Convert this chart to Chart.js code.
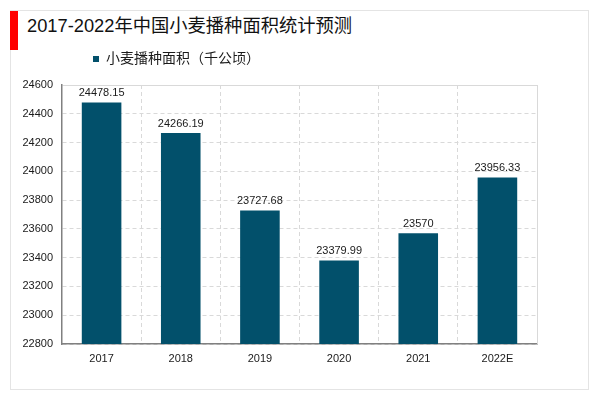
<!DOCTYPE html>
<html>
<head>
<meta charset="utf-8">
<script src="https://cdn.jsdelivr.net/npm/chart.js@4/dist/chart.umd.min.js"></script>
<style>
  html, body { margin: 0; padding: 0; background: #ffffff; }
  #wrap { position: relative; width: 600px; height: 393px; overflow: hidden; background: #fff; }
  #frame { position: absolute; left: 10px; top: 10px; width: 579px; height: 380px; border: 1px solid #e4e4e4; box-sizing: border-box; }
  #redbar { position: absolute; left: 10px; top: 11px; width: 8px; height: 39px; background: #ff0000; }
  #title { position: absolute; left: 27px; top: 14px; font-family: "Liberation Sans", "Noto Sans CJK SC", sans-serif; font-size: 18.3px; line-height: 24px; color: #111; white-space: nowrap; }
  #c { position: absolute; left: 0; top: 0; }
</style>
</head>
<body>
<div id="wrap">
  <div id="frame"></div>
  <div id="redbar"></div>
  <div id="title">2017-2022年中国小麦播种面积统计预测</div>
  <canvas id="c" width="600" height="393"></canvas>
</div>
<script>
const categories = ["2017", "2018", "2019", "2020", "2021", "2022E"];
const seriesName = "小麦播种面积（千公顷）";
const areaValues = [24478.15, 24266.19, 23727.68, 23379.99, 23570, 23956.33];
const yMin = 22800;
const yMax = 24600;
const yStep = 200;

const FONT = '"Liberation Sans", "Noto Sans CJK SC", sans-serif';

const valueLabels = {
  id: 'valueLabels',
  afterDatasetsDraw(chart) {
    const ctx = chart.ctx;
    const meta = chart.getDatasetMeta(0);
    const data = chart.data.datasets[0].data;
    ctx.save();
    ctx.font = '11px ' + FONT;
    ctx.fillStyle = '#1a1a1a';
    ctx.textAlign = 'center';
    ctx.textBaseline = 'bottom';
    meta.data.forEach((bar, i) => {
      ctx.fillText(String(data[i]), bar.x, bar.y - 4);
    });
    ctx.restore();
  }
};

const plotRightEdge = {
  id: 'plotRightEdge',
  beforeDatasetsDraw(chart) {
    const a = chart.chartArea;
    const ctx = chart.ctx;
    ctx.save();
    ctx.strokeStyle = '#d9d9d9';
    ctx.lineWidth = 1;
    ctx.setLineDash([]);
    const x = Math.round(a.right) + 0.5;
    ctx.beginPath();
    ctx.moveTo(x, a.top);
    ctx.lineTo(x, a.bottom);
    ctx.stroke();
    ctx.restore();
  }
};

const legendShift = {
  id: 'legendShift',
  afterLayout(chart) {
    if (chart.legend) {
      chart.legend.left += 21;
      chart.legend.right += 21;
      chart.legend.top -= 9;
      chart.legend.bottom -= 9;
    }
  }
};

new Chart(document.getElementById('c'), {
  type: 'bar',
  data: {
    labels: categories,
    datasets: [{
      label: seriesName,
      data: areaValues,
      backgroundColor: '#02506b',
      borderWidth: 0,
      barPercentage: 0.5,
      categoryPercentage: 1.0
    }]
  },
  options: {
    responsive: false,
    animation: false,
    devicePixelRatio: 1,
    layout: { padding: { left: 10, right: 63, top: 51, bottom: 0 } },
    plugins: {
      legend: {
        display: true,
        position: 'top',
        align: 'start',
        fullSize: false,
        labels: {
          boxWidth: 6,
          boxHeight: 6,
          padding: 10,
          color: '#1a1a1a',
          font: { size: 14, family: FONT }
        }
      },
      tooltip: { enabled: false },
      title: { display: false }
    },
    scales: {
      x: {
        grid: {
          display: true,
          offset: true,
          drawTicks: false,
          color: '#d9d9d9',
          lineWidth: 1
        },
        border: {
          display: true,
          color: '#808080',
          width: 1.5,
          dash: (c) => (c.type === 'tick' && c.index < categories.length ? [4, 3] : [])
        },
        ticks: {
          color: '#1a1a1a',
          padding: 8,
          font: { size: 11, family: FONT }
        },
        afterFit(scale) { scale.height = 49; }
      },
      y: {
        min: yMin,
        max: yMax,
        grid: {
          drawTicks: false,
          color: '#d9d9d9',
          lineWidth: 1
        },
        border: {
          display: true,
          color: '#808080',
          width: 1.5,
          dash: (c) => (c.tick && c.tick.value === yMax ? [] : [4, 3])
        },
        ticks: {
          stepSize: yStep,
          color: '#1a1a1a',
          padding: 9,
          font: { size: 11, family: FONT },
          callback: (v) => String(v)
        },
        afterFit(scale) { scale.width = 52; }
      }
    }
  },
  plugins: [valueLabels, plotRightEdge, legendShift]
});
</script>
</body>
</html>
